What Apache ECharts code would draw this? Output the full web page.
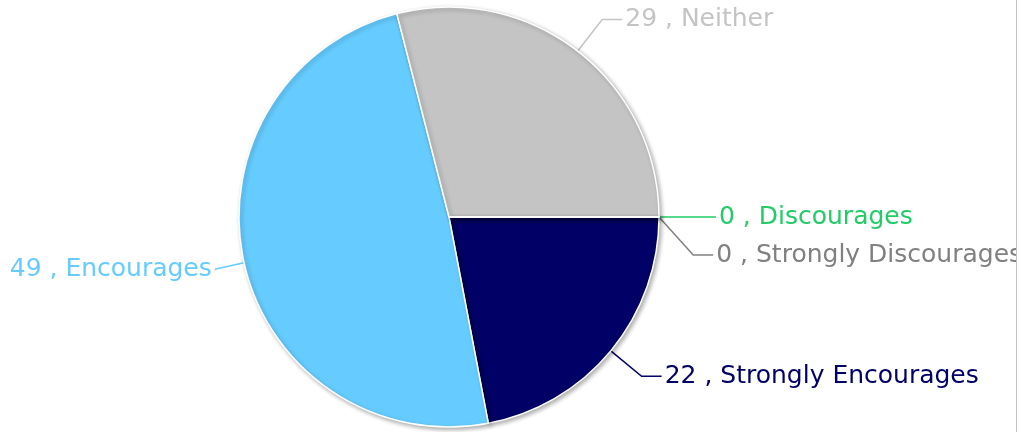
<!DOCTYPE html>
<html>
<head>
<meta charset="utf-8">
<script src="https://cdn.jsdelivr.net/npm/echarts@6/dist/echarts.min.js"></script>
<style>
html,body{margin:0;padding:0;background:#fff;}
#chart{width:1016px;height:432px;border-right:1px solid #c4c4c4;overflow:hidden;}
</style>
</head>
<body>
<div id="chart"></div>
<script>
const categories = ["Strongly Encourages", "Encourages", "Neither", "Discourages", "Strongly Discourages"];
const values = [22, 49, 29, 0, 0];
const colors = ["#000066", "#66ccff", "#c4c4c4", "#22cc66", "#808080"];

const chart = echarts.init(document.getElementById('chart'));
chart.setOption({
  backgroundColor: '#ffffff',
  animation: false,
  series: [{
    type: 'pie',
    center: [449, 217],
    radius: 210,
    startAngle: 0,
    clockwise: true,
    avoidLabelOverlap: true,
    itemStyle: {
      borderColor: '#ffffff',
      borderWidth: 1.5,
      shadowBlur: 4,
      shadowColor: 'rgba(0,0,0,0.3)',
      shadowOffsetX: 2,
      shadowOffsetY: 2
    },
    label: {
      show: true,
      position: 'outside',
      fontFamily: 'DejaVu Sans',
      fontSize: 25,
      lineHeight: 36,
      overflow: 'none',
      distanceToLabelLine: 3,
      formatter: p => p.value + ' , ' + p.name
    },
    labelLine: { show: true, length: 40, length2: 20, lineStyle: { width: 1.5 } },
    emphasis: { disabled: true },
    data: categories.map((c, i) => ({
      name: c,
      value: values[i],
      itemStyle: { color: colors[i] },
      label: { color: colors[i] },
      labelLine: c === 'Encourages'
        ? { length: 30, length2: 0, lineStyle: { color: colors[i] } }
        : { lineStyle: { color: colors[i] } }
    }))
  }]
});
</script>
</body>
</html>
